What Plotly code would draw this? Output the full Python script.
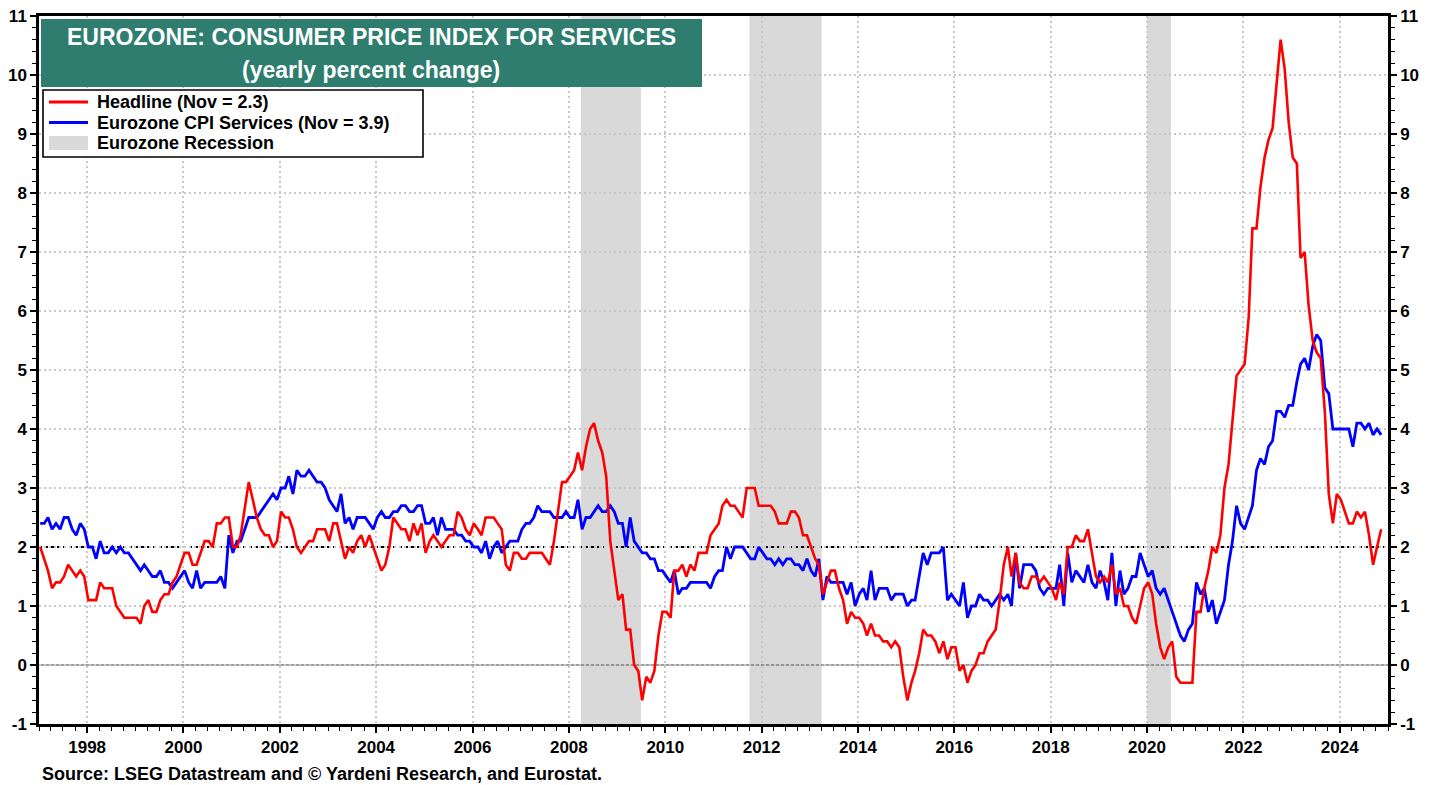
import pandas as pd
import plotly.graph_objects as go

# ---------------- data (monthly, Jan 1997 - Nov 2024) ----------------
start_month = "1997-01"
n_months = 335

headline = [
    2.0, 1.8, 1.6, 1.3, 1.4, 1.4, 1.5, 1.7, 1.6, 1.5, 1.6, 1.5,   # 1997
    1.1, 1.1, 1.1, 1.4, 1.3, 1.3, 1.3, 1.0, 0.9, 0.8, 0.8, 0.8,   # 1998
    0.8, 0.7, 1.0, 1.1, 0.9, 0.9, 1.1, 1.2, 1.2, 1.4, 1.5, 1.7,   # 1999
    1.9, 1.9, 1.7, 1.7, 1.9, 2.1, 2.1, 2.0, 2.4, 2.4, 2.5, 2.5,   # 2000
    2.0, 2.0, 2.2, 2.7, 3.1, 2.8, 2.5, 2.3, 2.2, 2.2, 2.0, 2.1,   # 2001
    2.6, 2.5, 2.5, 2.3, 2.0, 1.9, 2.0, 2.1, 2.1, 2.3, 2.3, 2.3,   # 2002
    2.1, 2.4, 2.4, 2.1, 1.8, 2.0, 1.9, 2.1, 2.2, 2.0, 2.2, 2.0,   # 2003
    1.8, 1.6, 1.7, 2.0, 2.5, 2.4, 2.3, 2.3, 2.1, 2.4, 2.2, 2.4,   # 2004
    1.9, 2.1, 2.2, 2.1, 2.0, 2.1, 2.2, 2.2, 2.6, 2.5, 2.3, 2.2,   # 2005
    2.4, 2.3, 2.2, 2.5, 2.5, 2.5, 2.4, 2.3, 1.7, 1.6, 1.9, 1.9,   # 2006
    1.8, 1.8, 1.9, 1.9, 1.9, 1.9, 1.8, 1.7, 2.1, 2.6, 3.1, 3.1,   # 2007
    3.2, 3.3, 3.6, 3.3, 3.7, 4.0, 4.1, 3.8, 3.6, 3.2, 2.1, 1.6,   # 2008
    1.1, 1.2, 0.6, 0.6, 0.0, -0.1, -0.6, -0.2, -0.3, -0.1, 0.5, 0.9,  # 2009
    0.9, 0.8, 1.6, 1.6, 1.7, 1.5, 1.7, 1.6, 1.9, 1.9, 1.9, 2.2,   # 2010
    2.3, 2.4, 2.7, 2.8, 2.7, 2.7, 2.6, 2.5, 3.0, 3.0, 3.0, 2.7,   # 2011
    2.7, 2.7, 2.7, 2.6, 2.4, 2.4, 2.4, 2.6, 2.6, 2.5, 2.2, 2.2,   # 2012
    2.0, 1.8, 1.7, 1.2, 1.4, 1.6, 1.6, 1.3, 1.1, 0.7, 0.9, 0.8,   # 2013
    0.8, 0.7, 0.5, 0.7, 0.5, 0.5, 0.4, 0.4, 0.3, 0.4, 0.3, -0.2,  # 2014
    -0.6, -0.3, -0.1, 0.2, 0.6, 0.5, 0.5, 0.4, 0.2, 0.4, 0.1, 0.3,  # 2015
    0.3, -0.1, 0.0, -0.3, -0.1, 0.0, 0.2, 0.2, 0.4, 0.5, 0.6, 1.1,  # 2016
    1.7, 2.0, 1.5, 1.9, 1.4, 1.3, 1.3, 1.5, 1.5, 1.4, 1.5, 1.4,   # 2017
    1.3, 1.1, 1.4, 1.2, 2.0, 2.0, 2.2, 2.1, 2.1, 2.3, 1.9, 1.5,   # 2018
    1.4, 1.5, 1.4, 1.7, 1.2, 1.3, 1.0, 1.0, 0.8, 0.7, 1.0, 1.3,   # 2019
    1.4, 1.2, 0.7, 0.3, 0.1, 0.3, 0.4, -0.2, -0.3, -0.3, -0.3, -0.3,  # 2020
    0.9, 0.9, 1.3, 1.6, 2.0, 1.9, 2.2, 3.0, 3.4, 4.1, 4.9, 5.0,   # 2021
    5.1, 5.9, 7.4, 7.4, 8.1, 8.6, 8.9, 9.1, 9.9, 10.6, 10.1, 9.2,  # 2022
    8.6, 8.5, 6.9, 7.0, 6.1, 5.5, 5.3, 5.2, 4.3, 2.9, 2.4, 2.9,   # 2023
    2.8, 2.6, 2.4, 2.4, 2.6, 2.5, 2.6, 2.2, 1.7, 2.0, 2.3,        # 2024
]

services = [
    2.4, 2.4, 2.5, 2.3, 2.4, 2.3, 2.5, 2.5, 2.3, 2.2, 2.4, 2.3,   # 1997
    2.0, 2.0, 1.8, 2.1, 1.9, 1.9, 2.0, 1.9, 2.0, 1.9, 1.9, 1.8,   # 1998
    1.7, 1.6, 1.7, 1.6, 1.5, 1.5, 1.6, 1.4, 1.4, 1.3, 1.4, 1.5,   # 1999
    1.6, 1.4, 1.3, 1.6, 1.3, 1.4, 1.4, 1.4, 1.4, 1.5, 1.3, 2.2,   # 2000
    1.9, 2.1, 2.1, 2.3, 2.5, 2.5, 2.5, 2.6, 2.7, 2.8, 2.9, 2.8,   # 2001
    3.0, 3.0, 3.2, 2.9, 3.3, 3.2, 3.2, 3.3, 3.2, 3.1, 3.1, 3.0,   # 2002
    2.8, 2.7, 2.6, 2.9, 2.4, 2.5, 2.3, 2.5, 2.5, 2.5, 2.4, 2.3,   # 2003
    2.5, 2.6, 2.5, 2.5, 2.6, 2.6, 2.7, 2.7, 2.6, 2.6, 2.7, 2.7,   # 2004
    2.4, 2.4, 2.5, 2.2, 2.5, 2.3, 2.3, 2.3, 2.2, 2.2, 2.1, 2.1,   # 2005
    2.0, 2.0, 1.9, 2.1, 1.8, 2.0, 2.1, 1.9, 2.0, 2.1, 2.1, 2.1,   # 2006
    2.3, 2.4, 2.4, 2.5, 2.7, 2.6, 2.6, 2.6, 2.5, 2.5, 2.5, 2.6,   # 2007
    2.5, 2.5, 2.8, 2.3, 2.5, 2.5, 2.6, 2.7, 2.6, 2.6, 2.7, 2.6,   # 2008
    2.4, 2.4, 2.0, 2.5, 2.1, 2.0, 1.9, 1.9, 1.8, 1.8, 1.6, 1.6,   # 2009
    1.5, 1.4, 1.6, 1.2, 1.3, 1.3, 1.4, 1.4, 1.4, 1.4, 1.4, 1.3,   # 2010
    1.5, 1.6, 1.6, 2.0, 1.8, 2.0, 2.0, 2.0, 1.9, 1.8, 1.8, 2.0,   # 2011
    1.9, 1.8, 1.8, 1.7, 1.8, 1.7, 1.8, 1.8, 1.7, 1.7, 1.6, 1.8,   # 2012
    1.6, 1.5, 1.8, 1.1, 1.5, 1.4, 1.4, 1.4, 1.4, 1.2, 1.4, 1.0,   # 2013
    1.2, 1.3, 1.1, 1.6, 1.1, 1.3, 1.3, 1.3, 1.1, 1.2, 1.2, 1.2,   # 2014
    1.0, 1.1, 1.1, 1.5, 1.9, 1.7, 1.9, 1.9, 1.9, 2.0, 1.1, 1.2,   # 2015
    1.1, 1.0, 1.4, 0.8, 1.0, 1.0, 1.2, 1.1, 1.1, 1.0, 1.1, 1.2,   # 2016
    1.1, 1.2, 1.0, 1.9, 1.3, 1.7, 1.7, 1.7, 1.6, 1.3, 1.2, 1.3,   # 2017
    1.3, 1.3, 1.7, 1.0, 1.9, 1.4, 1.6, 1.5, 1.4, 1.7, 1.4, 1.3,   # 2018
    1.6, 1.4, 1.1, 1.9, 1.0, 1.6, 1.2, 1.3, 1.5, 1.5, 1.9, 1.7,   # 2019
    1.5, 1.6, 1.3, 1.2, 1.3, 1.1, 0.9, 0.7, 0.5, 0.4, 0.6, 0.7,   # 2020
    1.4, 1.2, 1.3, 0.9, 1.1, 0.7, 0.9, 1.1, 1.7, 2.1, 2.7, 2.4,   # 2021
    2.3, 2.5, 2.7, 3.3, 3.5, 3.4, 3.7, 3.8, 4.3, 4.3, 4.2, 4.4,   # 2022
    4.4, 4.8, 5.1, 5.2, 5.0, 5.4, 5.6, 5.5, 4.7, 4.6, 4.0, 4.0,   # 2023
    4.0, 4.0, 4.0, 3.7, 4.1, 4.1, 4.0, 4.1, 3.9, 4.0, 3.9,        # 2024
]

recession_starts = ["2008-04-01", "2011-10-01", "2020-01-01"]
recession_ends = ["2009-06-30", "2013-03-31", "2020-06-30"]

y_ticks = list(range(-1, 12))
x_tick_years = list(range(1998, 2025, 2))

title_line1 = "EUROZONE: CONSUMER PRICE INDEX FOR SERVICES"
title_line2 = "(yearly percent change)"
legend_names = ["Headline (Nov = 2.3)", "Eurozone CPI Services (Nov = 3.9)", "Eurozone Recession"]
source_text = "Source: LSEG Datastream and \u00a9 Yardeni Research, and Eurostat."

# ---------------- figure ----------------
dates = pd.period_range(start_month, periods=n_months, freq="M").to_timestamp() + pd.Timedelta(days=9)

RED = "#FF0000"
BLUE = "#0000FF"
SHADE = "#D9D9D9"
TEAL = "#2E7D6F"
FONT = "Liberation Sans"

# the page body adds an 8px offset, so the figure is drawn 8px smaller
OFF = 8
FIG_W, FIG_H = 1439 - OFF, 785 - OFF

fig = go.Figure()
fig.add_trace(go.Scatter(x=dates, y=services, mode="lines", name=legend_names[1],
                         line=dict(color=BLUE, width=2.8), showlegend=False))
fig.add_trace(go.Scatter(x=dates, y=headline, mode="lines", name=legend_names[0],
                         line=dict(color=RED, width=2.6), showlegend=False))
# invisible helper so the right-hand axis is drawn
fig.add_trace(go.Scatter(x=[dates[0]], y=[headline[0]], yaxis="y2", mode="markers",
                         marker=dict(opacity=0), hoverinfo="skip", showlegend=False))

shapes = []
for s, e in zip(recession_starts, recession_ends):
    shapes.append(dict(type="rect", xref="x", yref="paper", x0=s, x1=e, y0=0, y1=1,
                       fillcolor=SHADE, line=dict(width=0), layer="below"))
# reference lines
shapes.append(dict(type="line", xref="paper", yref="y", x0=0, x1=1, y0=2, y1=2,
                   line=dict(color="black", width=2, dash="dot"), layer="below"))
shapes.append(dict(type="line", xref="paper", yref="y", x0=0, x1=1, y0=0, y1=0,
                   line=dict(color="#7F7F7F", width=1.6), layer="below"))

# plot-area in page pixels: x 39..1388, y 16..724
L, R, T, B = 39, 1388, 16, 724
def px_x(px):
    return (px - L) / (R - L)
def px_y(py):
    return (B - py) / (B - T)

shapes.append(dict(type="rect", xref="paper", yref="paper",
                   x0=px_x(41), x1=px_x(702), y0=px_y(87), y1=px_y(19),
                   fillcolor=TEAL, line=dict(width=0), layer="above"))
# legend box
shapes.append(dict(type="rect", xref="paper", yref="paper",
                   x0=px_x(43), x1=px_x(423), y0=px_y(157), y1=px_y(90),
                   fillcolor="white", line=dict(color="black", width=1.6), layer="above"))
legend_rows = [102, 122.5, 143]
shapes.append(dict(type="line", xref="paper", yref="paper", x0=px_x(49), x1=px_x(88),
                   y0=px_y(legend_rows[0]), y1=px_y(legend_rows[0]),
                   line=dict(color=RED, width=3), layer="above"))
shapes.append(dict(type="line", xref="paper", yref="paper", x0=px_x(49), x1=px_x(88),
                   y0=px_y(legend_rows[1]), y1=px_y(legend_rows[1]),
                   line=dict(color=BLUE, width=3), layer="above"))
shapes.append(dict(type="rect", xref="paper", yref="paper", x0=px_x(49), x1=px_x(88),
                   y0=px_y(legend_rows[2] + 7), y1=px_y(legend_rows[2] - 7),
                   fillcolor=SHADE, line=dict(width=0), layer="above"))

annotations = [
    dict(text=title_line1, xref="paper", yref="paper", x=px_x(371), y=px_y(37),
         xanchor="center", yanchor="middle", showarrow=False,
         font=dict(family=FONT, size=23, color="white", weight="bold")),
    dict(text=title_line2, xref="paper", yref="paper", x=px_x(371), y=px_y(70),
         xanchor="center", yanchor="middle", showarrow=False,
         font=dict(family=FONT, size=23, color="white", weight="bold")),
    dict(text=source_text, xref="paper", yref="paper", x=px_x(40), y=px_y(774),
         xanchor="left", yanchor="middle", showarrow=False,
         font=dict(family=FONT, size=18, color="black", weight="bold")),
]
for name, row in zip(legend_names, legend_rows):
    annotations.append(dict(text=name, xref="paper", yref="paper", x=px_x(95), y=px_y(row),
                            xanchor="left", yanchor="middle", showarrow=False,
                            font=dict(family=FONT, size=18, color="black", weight="bold")))

tickfont = dict(family=FONT, size=17, color="black", weight="bold")
grid = dict(showgrid=True, gridcolor="#C8C8C8", gridwidth=1.5, griddash="2px,3px")

fig.update_layout(
    width=FIG_W, height=FIG_H,
    margin=dict(l=L - OFF, r=1439 - R, t=T - OFF, b=785 - B, autoexpand=False),
    paper_bgcolor="white", plot_bgcolor="white",
    shapes=shapes, annotations=annotations,
    showlegend=False,
    xaxis=dict(type="date", range=["1997-01-01", "2025-01-01"], automargin=False,
               tickmode="array",
               tickvals=[f"{y}-01-01" for y in x_tick_years],
               ticktext=[str(y) for y in x_tick_years],
               ticks="outside", ticklen=6, tickwidth=1.5, tickcolor="black",
               minor=dict(dtick="M3", tick0="1997-01-01", ticks="outside", ticklen=4,
                          tickwidth=1, tickcolor="black", showgrid=False),
               showline=True, linecolor="black", linewidth=2.5, mirror=True,
               tickfont=tickfont, zeroline=False, **grid),
    yaxis=dict(range=[-1, 11], automargin=False, tickmode="array", tickvals=y_ticks,
               ticktext=[str(v) for v in y_ticks], ticklabeloverflow="allow",
               ticks="outside", ticklen=6, tickwidth=1.5, tickcolor="black",
               minor=dict(dtick=0.2, tick0=0, ticks="outside", ticklen=4, tickwidth=1,
                          tickcolor="black", showgrid=False),
               showline=True, linecolor="black", linewidth=2.5, mirror=True,
               tickfont=tickfont, zeroline=False, **grid),
    yaxis2=dict(range=[-1, 11], automargin=False, overlaying="y", side="right", anchor="x",
                tickmode="array", tickvals=y_ticks, ticktext=[str(v) for v in y_ticks],
                ticklabeloverflow="allow",
                ticks="outside", ticklen=6, tickwidth=1.5, tickcolor="black",
                minor=dict(dtick=0.2, tick0=0, ticks="outside", ticklen=4, tickwidth=1,
                           tickcolor="black"),
                showline=True, linecolor="black", linewidth=2.5,
                showgrid=False, zeroline=False, tickfont=tickfont),
)

fig.write_html("out.html")
